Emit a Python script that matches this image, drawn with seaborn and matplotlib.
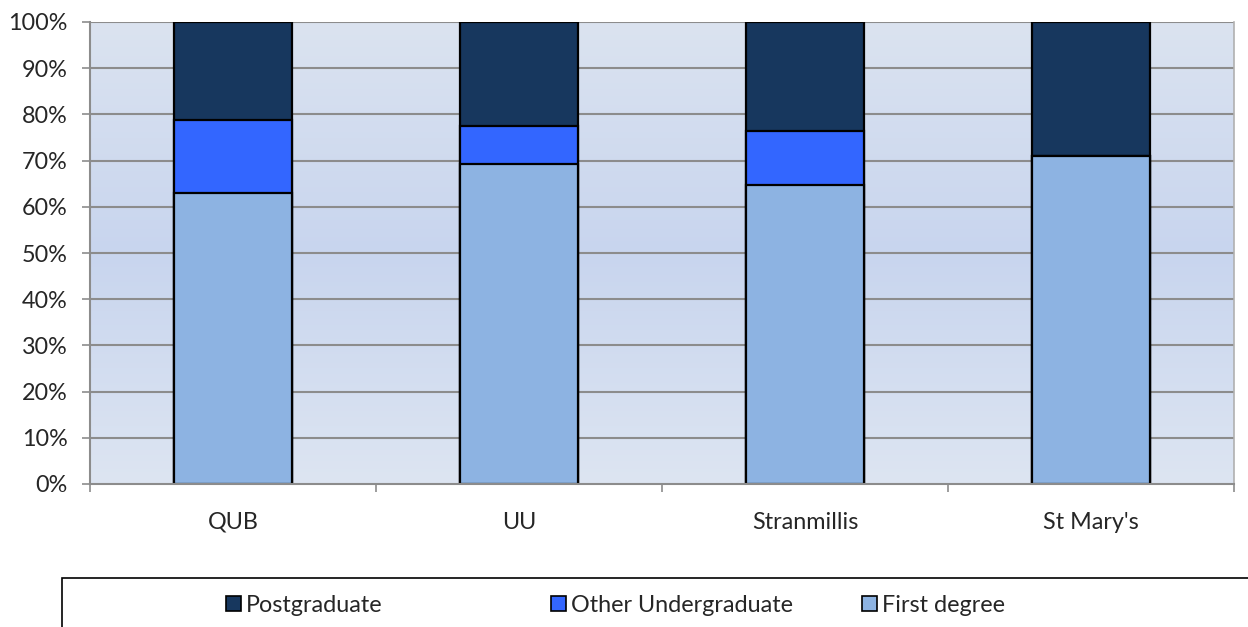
import numpy as np
import pandas as pd
import matplotlib
matplotlib.use("Agg")
import matplotlib.pyplot as plt
import matplotlib.patches as mpatches
from matplotlib.colors import LinearSegmentedColormap
import seaborn as sns

institutions = ["QUB", "UU", "Stranmillis", "St Mary's"]
first_degree = [63.0, 69.2, 64.7, 71.0]
other_ug = [15.7, 8.3, 11.8, 0.0]
postgrad = [21.3, 22.5, 23.5, 29.0]

series_names = ["Postgraduate", "Other Undergraduate", "First degree"]
series_colors = ["#17375e", "#3366ff", "#8db3e2"]

sns.set_theme(style="white")
plt.rcParams['font.family'] = ['Lato', 'DejaVu Sans']

df = pd.DataFrame({
    "inst": institutions,
    "first": first_degree,
    "other": other_ug,
    "post": postgrad,
})
df["cum_other"] = df["first"] + df["other"]
df["cum_post"] = df["cum_other"] + df["post"]

fig = plt.figure(figsize=(12.48, 6.27), dpi=100)
ax = fig.add_axes([90 / 1248, 1 - 484 / 627, (1234 - 90) / 1248, (484 - 22) / 627])

# gradient background
grad_cmap = LinearSegmentedColormap.from_list(
    "bg", ["#dde5f2", "#c8d5ee", "#dbe3f0"])
grad = np.linspace(0, 1, 256).reshape(-1, 1)
ax.imshow(grad, cmap=grad_cmap, aspect="auto", extent=(-0.5, 3.5, 0, 100),
          origin="lower", zorder=0)

for y in range(10, 101, 10):
    ax.axhline(y, color="#8c8c8c", lw=1.5, zorder=1)

for col, c in zip(["cum_post", "cum_other", "first"], series_colors):
    sns.barplot(data=df, x="inst", y=col, color=c, edgecolor="black",
                linewidth=1.6, width=0.41, ax=ax, zorder=2, saturation=1)

fs = 16.8
ax.set_xlim(-0.5, 3.5)
ax.set_ylim(0, 100)
ax.set_xlabel("")
ax.set_ylabel("")
ax.set_yticks(range(0, 101, 10))
ax.set_yticklabels([f"{v}%" for v in range(0, 101, 10)], fontsize=fs)
ax.set_xticks(range(4))
ax.set_xticklabels(institutions, fontsize=fs)
ax.set_xticks(np.arange(-0.5, 4, 1), minor=True)
ax.tick_params(axis="x", which="major", length=0, pad=20)
ax.tick_params(axis="x", which="minor", length=6, width=1.2, color="#8c8c8c",
               direction="out", bottom=True)
ax.tick_params(axis="y", length=6, width=1.2, color="#8c8c8c", direction="out",
               left=True, pad=10)

for side in ["left", "bottom"]:
    ax.spines[side].set_color("#8c8c8c")
    ax.spines[side].set_linewidth(1.5)
ax.spines["top"].set_visible(False)
ax.spines["right"].set_color("#b0b0b0")
ax.spines["right"].set_linewidth(1.2)

# legend box (open at right and bottom)
fig.add_artist(mpatches.Rectangle((62 / 1248, -0.05), 1.1, 0.05 + 49 / 627,
                                  transform=fig.transFigure, fill=False,
                                  edgecolor="black", lw=1.2))
# one legend per entry so the spacing follows the original
legend_x = [226, 551, 862]
for name, c, lx in zip(series_names, series_colors, legend_x):
    h = mpatches.Patch(facecolor=c, edgecolor="black", lw=1.2, label=name)
    fig.legend(handles=[h], loc="center left",
               bbox_to_anchor=(lx / 1248, 1 - 605 / 627), frameon=False,
               fontsize=fs, handlelength=0.65, handleheight=0.65,
               handletextpad=0.2, borderpad=0, borderaxespad=0)

fig.savefig("out.png", dpi=100)
